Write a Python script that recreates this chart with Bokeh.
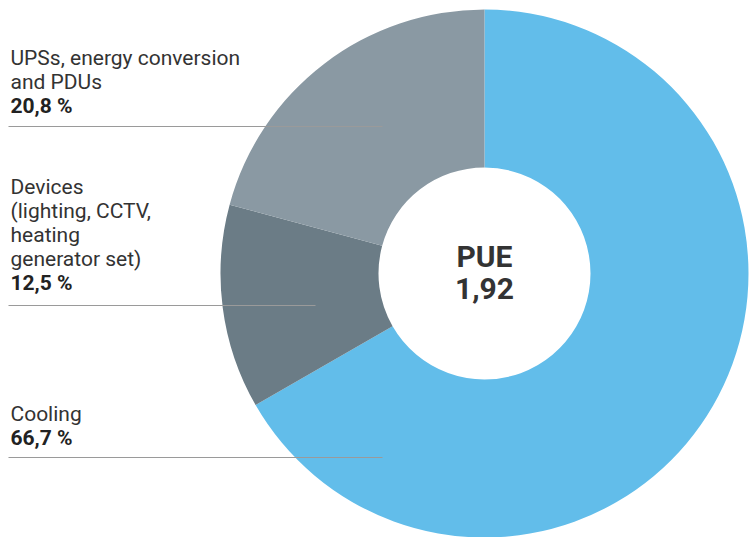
from bokeh.plotting import figure
from bokeh.models import Range1d, ColumnDataSource
from bokeh.core.properties import value
from bokeh.embed import file_html
from bokeh.resources import INLINE
import math

# ---- data ----
categories = ["Cooling", "Devices", "UPSs"]
shares = [66.7, 12.5, 20.8]
colors = ["#62BDEA", "#6B7C86", "#8A99A3"]
center_title = "PUE"
center_value = "1,92"
label_lines = [
    ["UPSs, energy conversion", "and PDUs"],
    ["Devices", "(lighting, CCTV,", "heating", "generator set)"],
    ["Cooling"],
]
label_values = ["20,8 %", "12,5 %", "66,7 %"]

W, H = 751, 537
FONT = "Roboto"
SHIFT = 9  # baseline correction

p = figure(width=W, height=H, output_backend="svg", toolbar_location=None,
           x_range=Range1d(0, W), y_range=Range1d(537 - H, 537),
           x_axis_type=None, y_axis_type=None, min_border=0)
p.grid.visible = False
p.outline_line_color = None
p.background_fill_color = "white"
p.border_fill_color = "white"

# wedges: start at top, go clockwise
cur = 90.0
starts, ends = [], []
for v in shares:
    a = v / sum(shares) * 360.0
    ends.append(math.radians(cur))
    starts.append(math.radians(cur - a))
    cur -= a
src = ColumnDataSource(dict(start=starts, end=ends, color=colors, cat=categories))
cx, cy = 484, 537 - 273
p.annular_wedge(x=cx, y=cy, inner_radius=106, outer_radius=264,
                start_angle="start", end_angle="end", fill_color="color",
                line_color=None, source=src)

# center text
p.text(x=[cx], y=[537 - 266 + SHIFT + 1], text=[center_title], text_font=value(FONT),
       text_font_size="30px", text_font_style="bold", text_color="#333333",
       text_align="center", text_baseline="alphabetic")
p.text(x=[cx], y=[537 - 298 + SHIFT + 1], text=[center_value], text_font=value(FONT),
       text_font_size="30px", text_font_style="bold", text_color="#333333",
       text_align="center", text_baseline="alphabetic")

# side labels
first_baselines = [66, 195, 422]
rule_y = [126, 305, 457]
rule_x1 = [382, 315, 382]
LH = 24
for lines, val, b0, ry, rx in zip(label_lines, label_values, first_baselines, rule_y, rule_x1):
    ys = [537 - (b0 + LH * i) + SHIFT for i in range(len(lines))]
    p.text(x=[10] * len(lines), y=ys, text=lines, text_font=value(FONT),
           text_font_size="21px", text_color="#333333",
           text_align="left", text_baseline="alphabetic")
    p.text(x=[10], y=[537 - (b0 + LH * len(lines)) + SHIFT], text=[val], text_font=value(FONT),
           text_font_size="21px", text_font_style="bold", text_color="#222222",
           text_align="left", text_baseline="alphabetic")
    p.segment(x0=[8], y0=[537 - ry], x1=[rx], y1=[537 - ry], line_color="#9A9A9A",
              line_width=1.2)

open("out.html", "w").write(file_html(p, INLINE))
